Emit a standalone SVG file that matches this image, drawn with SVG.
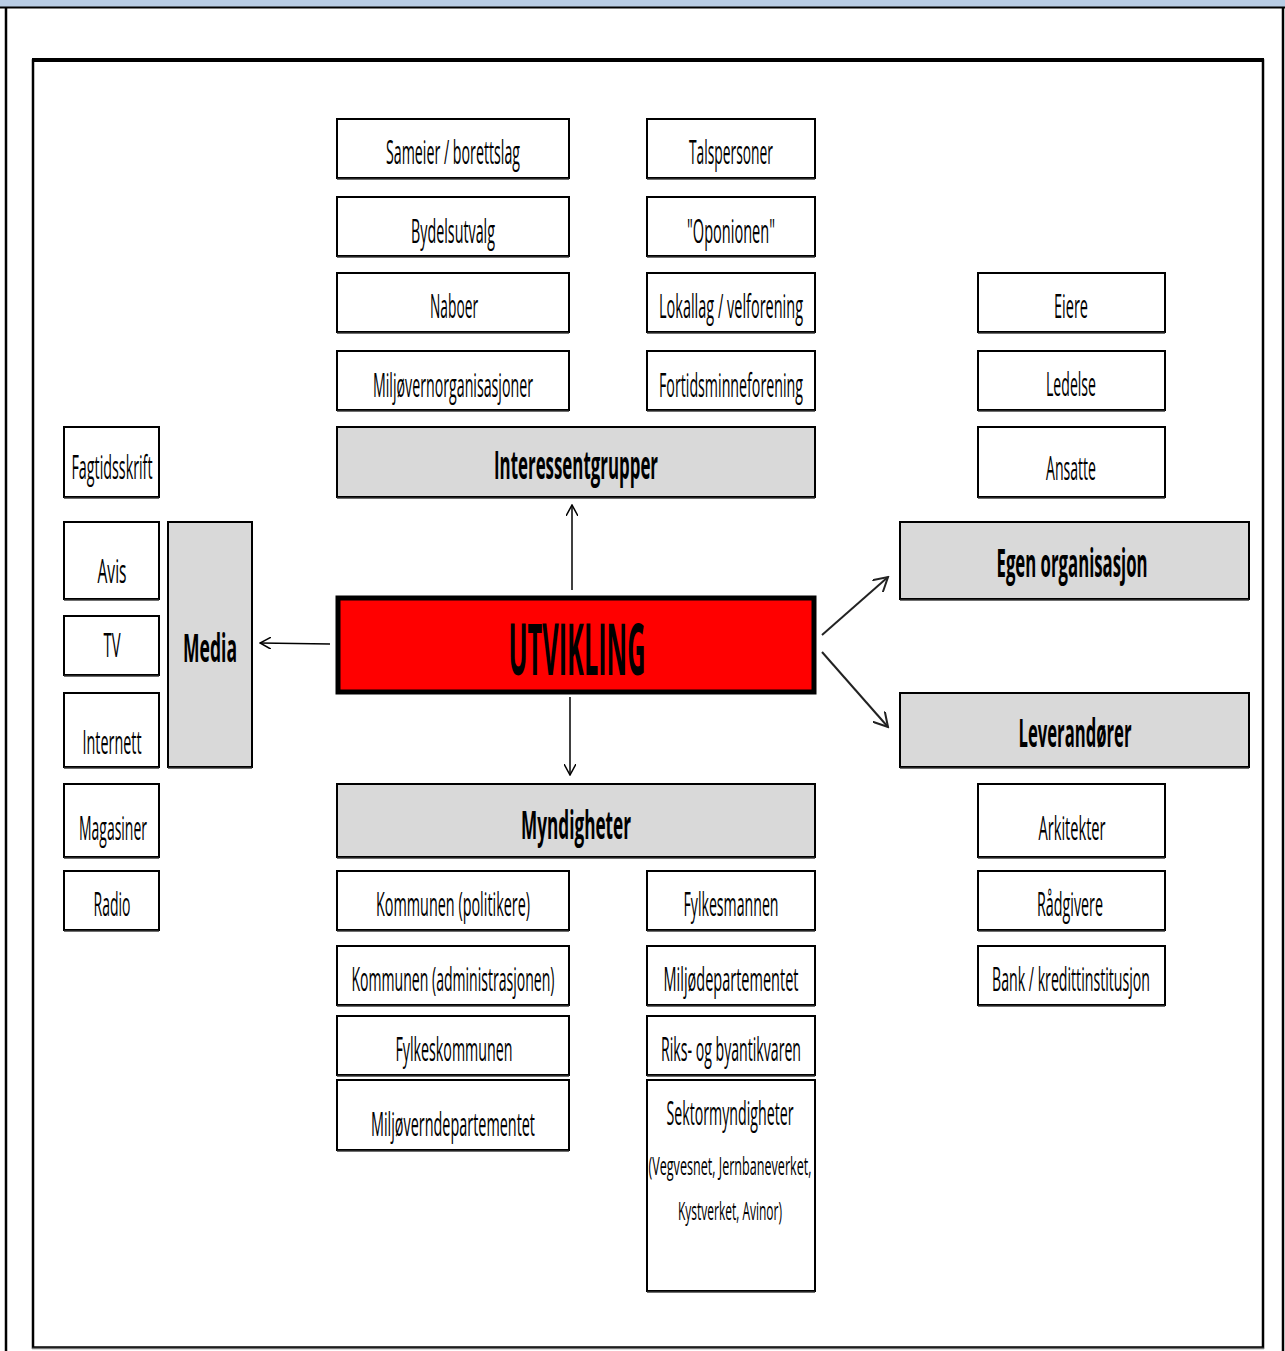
<svg xmlns="http://www.w3.org/2000/svg" width="1285" height="1351" viewBox="0 0 1285 1351">
  <style>
    .box { fill: #ffffff; stroke: #000000; stroke-width: 2; }
    .hdr { fill: #d9d9d9; stroke: #000000; stroke-width: 2; }
    .core { fill: #ff0000; stroke: #000000; stroke-width: 5; }
    .sh { stroke: #333333; stroke-width: 2; opacity: 0.7; }
    .t { font-family: "Open Sans", "Liberation Sans", sans-serif; font-size: 33px; fill: #000000; text-anchor: middle; }
    .ts { font-family: "Open Sans", "Liberation Sans", sans-serif; font-size: 26px; fill: #000000; text-anchor: middle; }
    .h { font-family: "Open Sans", "Liberation Sans", sans-serif; font-size: 40px; font-weight: bold; fill: #000000; text-anchor: middle; }
    .big { font-family: "Open Sans", "Liberation Sans", sans-serif; font-size: 72px; font-weight: bold; fill: #000000; text-anchor: middle; }
    .link { fill: none; stroke: #000000; stroke-width: 1.5; }
  </style>
  <defs>
    <marker id="arr" viewBox="0 0 12 12" refX="11" refY="6" markerWidth="12" markerHeight="12" markerUnits="userSpaceOnUse" orient="auto">
      <path d="M0,0 L11,6 L0,12" fill="none" stroke="#000000" stroke-width="1.5"/>
    </marker>
    <marker id="arr2" viewBox="0 0 16 16" refX="14" refY="8" markerWidth="16" markerHeight="16" markerUnits="userSpaceOnUse" orient="auto">
      <path d="M0,0 L14,8 L0,16" fill="none" stroke="#222222" stroke-width="2"/>
    </marker>
  </defs>

  <!-- page background and outer frame -->
  <rect x="0" y="0" width="1285" height="1351" fill="#ffffff"/>
  <rect x="0" y="0" width="1285" height="7" fill="#b8cce4"/>
  <line x1="0" y1="7.5" x2="1285" y2="7.5" stroke="#000000" stroke-width="2"/>
  <line x1="6" y1="7" x2="6" y2="1351" stroke="#000000" stroke-width="2.5"/>
  <line x1="1283" y1="7" x2="1283" y2="1351" stroke="#000000" stroke-width="2.5"/>

  <!-- inner frame -->
  <rect x="33" y="60.5" width="1230" height="1287" fill="none" stroke="#000000" stroke-width="2.5"/>
  <line x1="32" y1="60" x2="1264" y2="60" stroke="#000000" stroke-width="4"/>
  <line x1="32" y1="1348.5" x2="1264" y2="1348.5" stroke="#777777" stroke-width="1.5"/>

  <!-- connectors -->
  <g id="connectors">
    <line class="link" x1="572" y1="590" x2="572" y2="505" marker-end="url(#arr)"/>
    <line class="link" x1="570" y1="697" x2="570" y2="775" marker-end="url(#arr)"/>
    <line class="link" x1="330" y1="644" x2="260" y2="643" stroke-width="2" marker-end="url(#arr)"/>
    <line x1="822" y1="635" x2="888" y2="577" stroke="#222222" stroke-width="2" marker-end="url(#arr2)"/>
    <line x1="822" y1="652" x2="888" y2="727" stroke="#222222" stroke-width="2" marker-end="url(#arr2)"/>
  </g>

  <!-- interest groups, left column (labels condensed horizontally) -->
  <g id="sameier"><rect class="box" x="337" y="119" width="232" height="59"/><line class="sh" x1="337" y1="179" x2="569" y2="179"/><text class="t" transform="translate(453,164) scale(0.43,1)" textLength="311.6" lengthAdjust="spacingAndGlyphs">Sameier / borettslag</text></g>
  <g id="bydelsutvalg"><rect class="box" x="337" y="197" width="232" height="59"/><line class="sh" x1="337" y1="257" x2="569" y2="257"/><text class="t" transform="translate(453,243) scale(0.43,1)" textLength="195.3" lengthAdjust="spacingAndGlyphs">Bydelsutvalg</text></g>
  <g id="naboer"><rect class="box" x="337" y="273" width="232" height="59"/><line class="sh" x1="337" y1="333" x2="569" y2="333"/><text class="t" transform="translate(454,318) scale(0.43,1)" textLength="111.6" lengthAdjust="spacingAndGlyphs">Naboer</text></g>
  <g id="miljovernorg"><rect class="box" x="337" y="351" width="232" height="59"/><line class="sh" x1="337" y1="411" x2="569" y2="411"/><text class="t" transform="translate(453,397) scale(0.43,1)" textLength="372.1" lengthAdjust="spacingAndGlyphs">Miljøvernorganisasjoner</text></g>

  <!-- interest groups, right column -->
  <g id="talspersoner"><rect class="box" x="647" y="119" width="168" height="59"/><line class="sh" x1="647" y1="179" x2="815" y2="179"/><text class="t" transform="translate(731,164) scale(0.43,1)" textLength="195.3" lengthAdjust="spacingAndGlyphs">Talspersoner</text></g>
  <g id="oponionen"><rect class="box" x="647" y="197" width="168" height="59"/><line class="sh" x1="647" y1="257" x2="815" y2="257"/><text class="t" transform="translate(731,243) scale(0.43,1)" textLength="204.7" lengthAdjust="spacingAndGlyphs">"Oponionen"</text></g>
  <g id="lokallag"><rect class="box" x="647" y="273" width="168" height="59"/><line class="sh" x1="647" y1="333" x2="815" y2="333"/><text class="t" transform="translate(731,318) scale(0.43,1)" textLength="334.9" lengthAdjust="spacingAndGlyphs">Lokallag / velforening</text></g>
  <g id="fortidsminne"><rect class="box" x="647" y="351" width="168" height="59"/><line class="sh" x1="647" y1="411" x2="815" y2="411"/><text class="t" transform="translate(731,397) scale(0.43,1)" textLength="334.9" lengthAdjust="spacingAndGlyphs">Fortidsminneforening</text></g>

  <g id="interessentgrupper"><rect class="hdr" x="337" y="427" width="478" height="70"/><line class="sh" x1="337" y1="498" x2="815" y2="498"/><text class="h" transform="translate(576,479) scale(0.4,1)" textLength="410" lengthAdjust="spacingAndGlyphs">Interessentgrupper</text></g>

  <!-- own organisation -->
  <g id="eiere"><rect class="box" x="978" y="273" width="187" height="59"/><line class="sh" x1="978" y1="333" x2="1165" y2="333"/><text class="t" transform="translate(1071,318) scale(0.43,1)" textLength="79.1" lengthAdjust="spacingAndGlyphs">Eiere</text></g>
  <g id="ledelse"><rect class="box" x="978" y="351" width="187" height="59"/><line class="sh" x1="978" y1="411" x2="1165" y2="411"/><text class="t" transform="translate(1071,396) scale(0.43,1)" textLength="116.3" lengthAdjust="spacingAndGlyphs">Ledelse</text></g>
  <g id="ansatte"><rect class="box" x="978" y="427" width="187" height="70"/><line class="sh" x1="978" y1="498" x2="1165" y2="498"/><text class="t" transform="translate(1071,480) scale(0.43,1)" textLength="116.3" lengthAdjust="spacingAndGlyphs">Ansatte</text></g>
  <g id="egen-organisasjon"><rect class="hdr" x="900" y="522" width="349" height="77"/><line class="sh" x1="900" y1="600" x2="1249" y2="600"/><text class="h" transform="translate(1072,577) scale(0.4,1)" textLength="377.5" lengthAdjust="spacingAndGlyphs">Egen organisasjon</text></g>

  <!-- suppliers -->
  <g id="leverandorer"><rect class="hdr" x="900" y="693" width="349" height="74"/><line class="sh" x1="900" y1="768" x2="1249" y2="768"/><text class="h" transform="translate(1075,747) scale(0.4,1)" textLength="282.5" lengthAdjust="spacingAndGlyphs">Leverandører</text></g>
  <g id="arkitekter"><rect class="box" x="978" y="784" width="187" height="73"/><line class="sh" x1="978" y1="858" x2="1165" y2="858"/><text class="t" transform="translate(1072,840) scale(0.43,1)" textLength="155.8" lengthAdjust="spacingAndGlyphs">Arkitekter</text></g>
  <g id="radgivere"><rect class="box" x="978" y="871" width="187" height="59"/><line class="sh" x1="978" y1="931" x2="1165" y2="931"/><text class="t" transform="translate(1070,916) scale(0.43,1)" textLength="153.5" lengthAdjust="spacingAndGlyphs">Rådgivere</text></g>
  <g id="bank"><rect class="box" x="978" y="946" width="187" height="59"/><line class="sh" x1="978" y1="1006" x2="1165" y2="1006"/><text class="t" transform="translate(1071,991) scale(0.43,1)" textLength="367.4" lengthAdjust="spacingAndGlyphs">Bank / kredittinstitusjon</text></g>

  <!-- centre -->
  <g id="utvikling"><rect class="core" x="338" y="598" width="476" height="94"/><text class="big" transform="translate(577,675) scale(0.36,1)" textLength="380.6" lengthAdjust="spacingAndGlyphs">UTVIKLING</text></g>

  <!-- media -->
  <g id="media"><rect class="hdr" x="168" y="522" width="84" height="245"/><line class="sh" x1="168" y1="768" x2="252" y2="768"/><text class="h" transform="translate(210,662) scale(0.4,1)" textLength="135" lengthAdjust="spacingAndGlyphs">Media</text></g>
  <g id="fagtidsskrift"><rect class="box" x="64" y="427" width="95" height="70"/><line class="sh" x1="64" y1="498" x2="159" y2="498"/><text class="t" transform="translate(112,479) scale(0.43,1)" textLength="188.4" lengthAdjust="spacingAndGlyphs">Fagtidsskrift</text></g>
  <g id="avis"><rect class="box" x="64" y="522" width="95" height="77"/><line class="sh" x1="64" y1="600" x2="159" y2="600"/><text class="t" transform="translate(112,583) scale(0.43,1)" textLength="67.4" lengthAdjust="spacingAndGlyphs">Avis</text></g>
  <g id="tv"><rect class="box" x="64" y="616" width="95" height="59"/><line class="sh" x1="64" y1="676" x2="159" y2="676"/><text class="t" transform="translate(112,657) scale(0.43,1)" textLength="39.5" lengthAdjust="spacingAndGlyphs">TV</text></g>
  <g id="internett"><rect class="box" x="64" y="693" width="95" height="74"/><line class="sh" x1="64" y1="768" x2="159" y2="768"/><text class="t" transform="translate(112,754) scale(0.43,1)" textLength="137.2" lengthAdjust="spacingAndGlyphs">Internett</text></g>
  <g id="magasiner"><rect class="box" x="64" y="784" width="95" height="73"/><line class="sh" x1="64" y1="858" x2="159" y2="858"/><text class="t" transform="translate(113,840) scale(0.43,1)" textLength="158.1" lengthAdjust="spacingAndGlyphs">Magasiner</text></g>
  <g id="radio"><rect class="box" x="64" y="871" width="95" height="59"/><line class="sh" x1="64" y1="931" x2="159" y2="931"/><text class="t" transform="translate(112,916) scale(0.43,1)" textLength="86" lengthAdjust="spacingAndGlyphs">Radio</text></g>

  <!-- authorities -->
  <g id="myndigheter"><rect class="hdr" x="337" y="784" width="478" height="73"/><line class="sh" x1="337" y1="858" x2="815" y2="858"/><text class="h" transform="translate(576,839) scale(0.4,1)" textLength="275" lengthAdjust="spacingAndGlyphs">Myndigheter</text></g>
  <g id="kommunen-pol"><rect class="box" x="337" y="871" width="232" height="59"/><line class="sh" x1="337" y1="931" x2="569" y2="931"/><text class="t" transform="translate(453,916) scale(0.43,1)" textLength="358.1" lengthAdjust="spacingAndGlyphs">Kommunen (politikere)</text></g>
  <g id="kommunen-adm"><rect class="box" x="337" y="946" width="232" height="59"/><line class="sh" x1="337" y1="1006" x2="569" y2="1006"/><text class="t" transform="translate(453,991) scale(0.43,1)" textLength="472.1" lengthAdjust="spacingAndGlyphs">Kommunen (administrasjonen)</text></g>
  <g id="fylkeskommunen"><rect class="box" x="337" y="1016" width="232" height="59"/><line class="sh" x1="337" y1="1076" x2="569" y2="1076"/><text class="t" transform="translate(454,1061) scale(0.43,1)" textLength="272.1" lengthAdjust="spacingAndGlyphs">Fylkeskommunen</text></g>
  <g id="miljoverndep"><rect class="box" x="337" y="1080" width="232" height="70"/><line class="sh" x1="337" y1="1151" x2="569" y2="1151"/><text class="t" transform="translate(453,1136) scale(0.43,1)" textLength="381.4" lengthAdjust="spacingAndGlyphs">Miljøverndepartementet</text></g>
  <g id="fylkesmannen"><rect class="box" x="647" y="871" width="168" height="59"/><line class="sh" x1="647" y1="931" x2="815" y2="931"/><text class="t" transform="translate(731,916) scale(0.43,1)" textLength="220.9" lengthAdjust="spacingAndGlyphs">Fylkesmannen</text></g>
  <g id="miljodep"><rect class="box" x="647" y="946" width="168" height="59"/><line class="sh" x1="647" y1="1006" x2="815" y2="1006"/><text class="t" transform="translate(731,991) scale(0.43,1)" textLength="314" lengthAdjust="spacingAndGlyphs">Miljødepartementet</text></g>
  <g id="riksantikvaren"><rect class="box" x="647" y="1016" width="168" height="59"/><line class="sh" x1="647" y1="1076" x2="815" y2="1076"/><text class="t" transform="translate(731,1061) scale(0.43,1)" textLength="325.6" lengthAdjust="spacingAndGlyphs">Riks- og byantikvaren</text></g>
  <g id="sektormyndigheter"><rect class="box" x="647" y="1080" width="168" height="211"/><line class="sh" x1="647" y1="1292" x2="815" y2="1292"/>
    <text class="t" transform="translate(730,1125) scale(0.43,1)" textLength="295.3" lengthAdjust="spacingAndGlyphs">Sektormyndigheter</text>
    <text class="ts" transform="translate(730,1175) scale(0.45,1)" textLength="362.2" lengthAdjust="spacingAndGlyphs">(Vegvesnet, Jernbaneverket,</text>
    <text class="ts" transform="translate(730,1220) scale(0.45,1)" textLength="231.1" lengthAdjust="spacingAndGlyphs">Kystverket, Avinor)</text>
  </g>
</svg>
